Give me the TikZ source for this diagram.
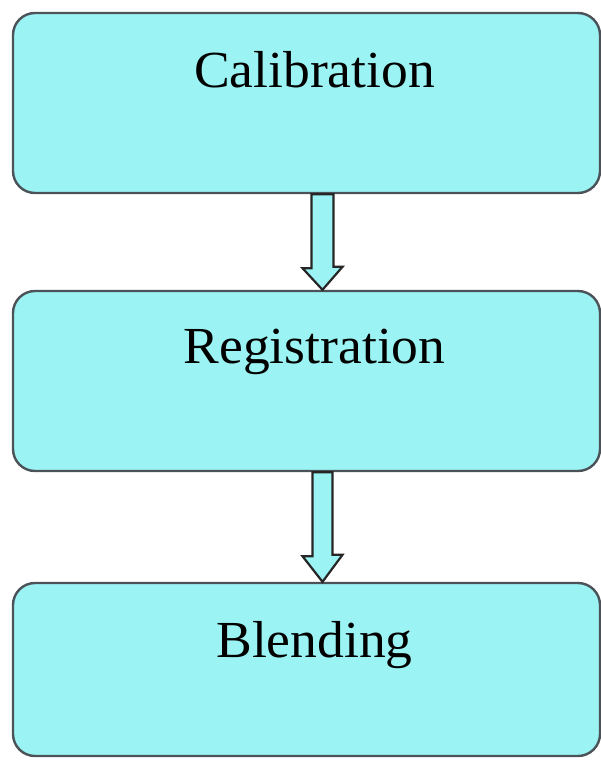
\documentclass[tikz,border=0pt]{standalone}
\usepackage{fontspec}
\setmainfont[FakeStretch=1.03]{Liberation Serif}
\usepackage{tikz}
\usetikzlibrary{calc}

\definecolor{boxcyan}{RGB}{155,243,243}
\definecolor{boxline}{RGB}{75,82,88}

\begin{document}
\begin{tikzpicture}[x=1pt,y=-1pt,
        stage/.style={draw=boxline, line width=2.4pt, fill=boxcyan, rounded corners=22pt,
            minimum width=587pt, minimum height=180pt, inner sep=0pt},
        stagetext/.style={anchor=north, yshift=-36pt, xshift=8pt, inner sep=3pt,
            font=\fontsize{52}{60}\selectfont},
        blockarrow/.style={draw=black!85, line width=2.2pt, fill=boxcyan, line join=miter}]
        \useasboundingbox (0,0) rectangle (601,760);

        \node[stage, label={[stagetext]north:Calibration}] (calib) at (306.5,103) {};
        \node[stage, label={[stagetext]north:Registration}] (regis) at (306.5,381) {};
        \node[stage, minimum height=173pt, label={[stagetext]north:Blending}] (blend) at (306.5,669.5) {};

        % hollow arrows between the stages
        \coordinate (tip1) at ($(regis.north)+(16,0)$);
        \draw[blockarrow] ($(calib.south)+(5,0)$) -- ++(0,74) -- ++(-9,0) -- (tip1)
            -- ++(20,-23) -- ++(-9,0) -- ($(calib.south)+(27,0)$) -- cycle;

        \coordinate (tip2) at ($(blend.north)+(16,0)$);
        \draw[blockarrow] ($(regis.south)+(6,0)$) -- ++(0,84) -- ++(-10,0) -- (tip2)
            -- ++(20,-27) -- ++(-10,0) -- ($(regis.south)+(26,0)$) -- cycle;
\end{tikzpicture}
\end{document}
